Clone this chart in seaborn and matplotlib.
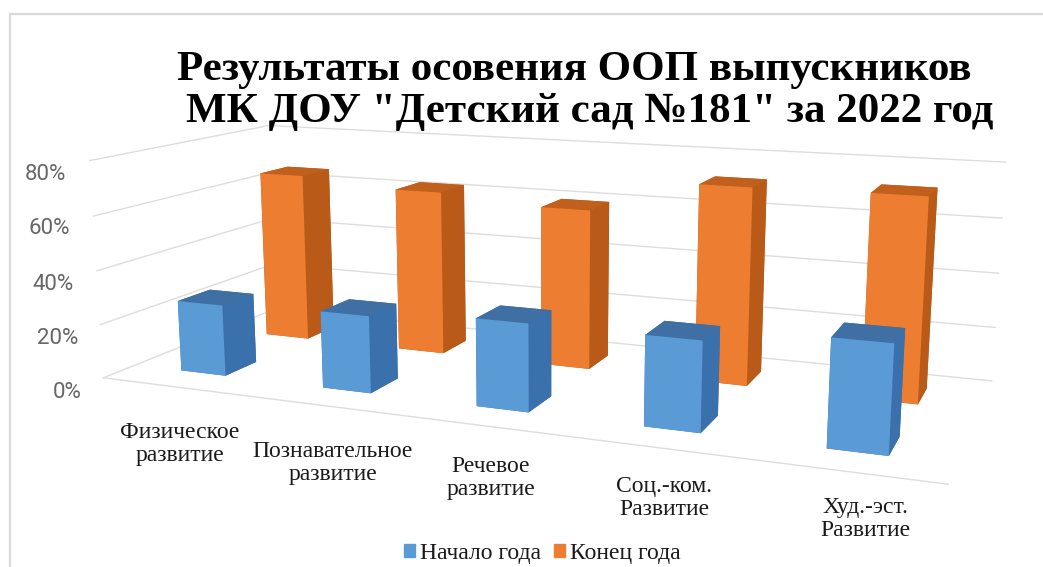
import numpy as np
import matplotlib
matplotlib.use('Agg')
import matplotlib.pyplot as plt
import seaborn as sns
from matplotlib.lines import Line2D
from matplotlib.patches import Patch

# данные
categories = ['Физическое\nразвитие', 'Познавательное\nразвитие', 'Речевое\nразвитие',
              'Соц.-ком.\nРазвитие', 'Худ.-эст.\nРазвитие']
series = ['Начало года', 'Конец года']
start_year = [0.265, 0.28, 0.31, 0.31, 0.36]
end_year = [0.66, 0.63, 0.60, 0.72, 0.725]
ticks = [0, 0.2, 0.4, 0.6, 0.8]
tick_labels = ['0%', '20%', '40%', '60%', '80%']
title_lines = ['Результаты осовения ООП выпускников', 'МК ДОУ "Детский сад №181" за 2022 год']

W, H = 1043, 567
sns.set_theme(style='white')
pal = sns.color_palette(['#5B9BD5', '#ED7D31'])
top_cols = ['#3F6FA3', '#C0601C']
side_cols = ['#3A70AB', '#B95A18']

fig = plt.figure(figsize=(W / 100, H / 100), dpi=100, facecolor='white')
ax = fig.add_axes([10.5 / W, -240.6 / H, 1, W / H], projection='3d')
ax.set_proj_type('persp', focal_length=0.27)
ax.view_init(elev=12, azim=-68)
ax.set_box_aspect((1.49, 0.58, 0.395), zoom=0.865)
ax.set_xlim(-0.5, 4.5)
ax.set_ylim(-0.5, 1.5)
ax.set_zlim(0, 0.8)
ax.set_axis_off()
ax.patch.set_visible(False)
ax.computed_zorder = False

# сетка на стенках
for t in ticks:
    ax.plot([-0.5, -0.5, 4.5], [-0.5, 1.5, 1.5], [t, t, t], color='#DDDDDD', lw=1.0, zorder=1)
ax.plot([-0.5, 4.5], [-0.5, -0.5], [0, 0], color='#DDDDDD', lw=1.0, zorder=1)

# столбцы: сначала задний ряд
bar_w, bar_d = 0.32, 0.35
xs, ys, tops, face_cols = [], [], [], []
for s, vals in [(1, end_year), (0, start_year)]:
    for i, v in enumerate(vals):
        xs.append(i - bar_w / 2)
        ys.append(s - bar_d / 2)
        tops.append(v)
        # порядок граней: -z, +z, -y, +y, -x, +x
        face_cols += [side_cols[s], top_cols[s], pal[s], side_cols[s], side_cols[s], side_cols[s]]
ax.bar3d(xs, ys, np.zeros(len(xs)), bar_w, bar_d, tops, color=face_cols, shade=False,
         linewidth=0, zorder=2)


def fx(x):
    return x / W


def fy(y):
    return 1 - y / H


# рамка
fig.add_artist(Line2D([fx(10), fx(10)], [fy(14), fy(567)], color='#D9D9D9', lw=1.6))
fig.add_artist(Line2D([fx(10), fx(1043)], [fy(14), fy(14)], color='#D9D9D9', lw=1.6))

# заголовок
fig.text(fx(574), fy(80), title_lines[0], ha='center', va='baseline', family='Liberation Serif',
         fontweight='bold', fontsize=31, color='black')
fig.text(fx(590), fy(122), title_lines[1], ha='center', va='baseline', family='Liberation Serif',
         fontweight='bold', fontsize=31, color='black')

# подписи оси значений
for lab, px, py in zip(tick_labels, [82, 78, 74, 70, 66], [392, 339, 284, 229, 174]):
    fig.text(fx(px), fy(py), lab, ha='right', va='center', family='Roboto', fontsize=16,
             color='#666666')

# подписи категорий
for lab, px, py in zip(categories, [180, 333, 491, 664, 865], [444, 463, 478, 498, 519]):
    fig.text(fx(px), fy(py), lab, ha='center', va='center', family='Liberation Serif', fontsize=17,
             color='#1a1a1a', linespacing=1.08)

handles = [Patch(color=pal[0], label=series[0]), Patch(color=pal[1], label=series[1])]
fig.legend(handles=handles, loc='center', bbox_to_anchor=(fx(542), fy(553)), ncol=2, frameon=False,
           prop={'family': 'Liberation Serif', 'size': 17}, handlelength=0.47, handleheight=0.47,
           handletextpad=0.2, columnspacing=0.55, labelcolor='#1a1a1a')

fig.savefig('out.png', dpi=100)
